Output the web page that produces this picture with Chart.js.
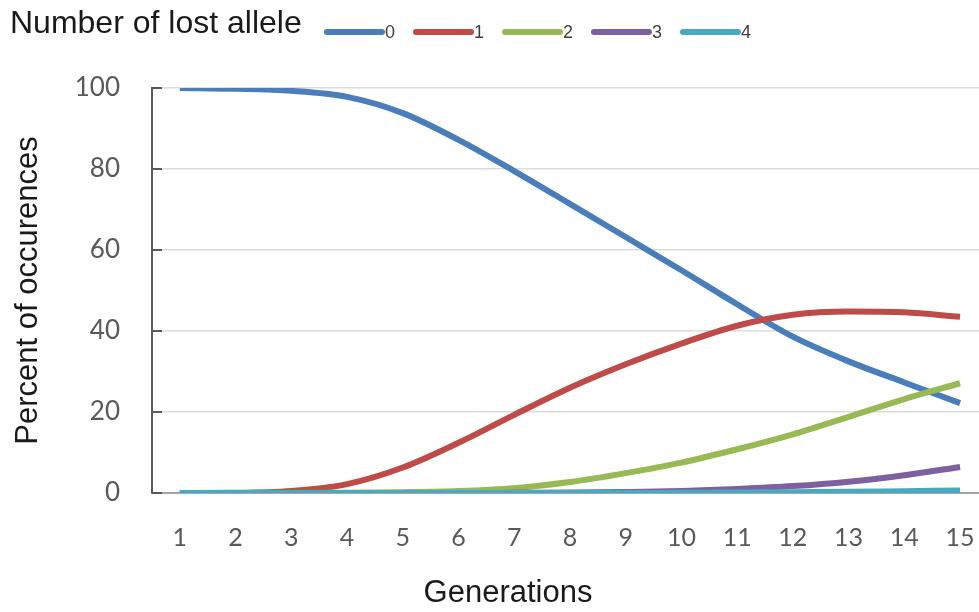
<!DOCTYPE html>
<html>
<head>
<meta charset="utf-8">
<script src="https://cdn.jsdelivr.net/npm/chart.js@4.4.1/dist/chart.umd.min.js"></script>
<style>
  body { margin: 0; background: #fff; }
  canvas { display: block; }
</style>
</head>
<body>
<canvas id="chart" width="979" height="612"></canvas>
<script>
// data
const generations = [1, 2, 3, 4, 5, 6, 7, 8, 9, 10, 11, 12, 13, 14, 15];
const lost0 = [100, 99.8, 99.3, 97.8, 93.8, 87.2, 79.5, 71.4, 63.2, 55.0, 46.6, 38.6, 32.5, 27.3, 22.2];
const lost1 = [0, 0.05, 0.5, 2.2, 6.3, 12.4, 19.3, 26.0, 31.8, 36.9, 41.3, 44.0, 44.8, 44.6, 43.5];
const lost2 = [0, 0, 0, 0.05, 0.2, 0.5, 1.2, 2.7, 4.9, 7.5, 10.8, 14.5, 18.8, 23.2, 27.1];
const lost3 = [0, 0, 0, 0, 0, 0, 0.05, 0.1, 0.25, 0.5, 1.0, 1.7, 2.8, 4.4, 6.4];
const lost4 = [0, 0, 0, 0, 0, 0, 0, 0, 0, 0.05, 0.1, 0.2, 0.3, 0.45, 0.6];
const seriesLabels = ['0', '1', '2', '3', '4'];
const seriesColors = ['#4a7ebb', '#be4b48', '#98b954', '#7d60a0', '#46aac5'];
const yTicks = [0, 20, 40, 60, 80, 100];

const seriesValues = [lost0, lost1, lost2, lost3, lost4];

// Legende, x-Titel und kleine Striche an der y-Achse
const decorPlugin = {
  id: 'decor',
  afterDraw(chart) {
    const ctx = chart.ctx;
    ctx.save();
    ctx.textBaseline = 'middle';
    ctx.fillStyle = '#1a1a1a';
    ctx.font = '32px "Liberation Sans", Arial, sans-serif';
    ctx.fillText('Number of lost allele', 10, 24);

    let x = 324;
    chart.data.datasets.forEach(ds => {
      ctx.strokeStyle = ds.borderColor;
      ctx.lineWidth = 6;
      ctx.lineCap = 'round';
      ctx.beginPath();
      ctx.moveTo(x + 3, 32);
      ctx.lineTo(x + 58, 32);
      ctx.stroke();
      ctx.fillStyle = '#404040';
      ctx.font = '18px "Liberation Sans Narrow", "Liberation Sans", sans-serif';
      ctx.textAlign = 'left';
      ctx.fillText(ds.label, x + 61, 33);
      x += 89;
    });

    ctx.fillStyle = '#1a1a1a';
    ctx.textAlign = 'center';
    ctx.font = '31px "Liberation Sans", Arial, sans-serif';
    ctx.fillText('Generations', 508, 593);

    const ys = chart.scales.y;
    ctx.strokeStyle = '#595959';
    ctx.lineWidth = 2;
    ctx.lineCap = 'butt';
    ys.ticks.forEach(t => {
      const py = Math.round(ys.getPixelForValue(t.value));
      ctx.beginPath();
      ctx.moveTo(ys.right, py);
      ctx.lineTo(ys.right + 10, py);
      ctx.stroke();
    });
    ctx.restore();
  }
};

const datasets = seriesValues.map((vals, i) => ({
  label: seriesLabels[i],
  data: vals.map((v, j) => ({ x: generations[j], y: v })),
  borderColor: seriesColors[i],
  backgroundColor: seriesColors[i],
  borderWidth: 6,
  pointRadius: 0,
  cubicInterpolationMode: 'monotone',
  order: seriesValues.length - i
}));

new Chart(document.getElementById('chart'), {
  type: 'line',
  data: { datasets: datasets },
  options: {
    responsive: false,
    animation: false,
    layout: { padding: { top: 88, left: 0, right: 0, bottom: 0 } },
    plugins: {
      legend: { display: false },
      tooltip: { enabled: false }
    },
    scales: {
      x: {
        type: 'linear',
        min: 0.5,
        max: 15.34,
        afterFit: s => { s.height = 119; s.paddingRight = 0; s.paddingLeft = 0; },
        afterBuildTicks: s => { s.ticks = generations.map(g => ({ value: g })); },
        grid: { display: false },
        border: { color: '#a6a6a6', width: 2 },
        ticks: {
          padding: 22,
          color: '#595959',
          font: { family: 'Lato, sans-serif', size: 25 },
          maxRotation: 0,
          autoSkip: false
        }
      },
      y: {
        min: 0,
        max: 100,
        afterFit: s => { s.width = 152; },
        afterBuildTicks: s => { s.ticks = yTicks.map(v => ({ value: v })); },
        grid: { color: '#dcdcdc', lineWidth: 1.5, drawTicks: false },
        border: { color: '#595959', width: 2 },
        ticks: {
          padding: 32,
          color: '#595959',
          font: { family: 'Lato, sans-serif', size: 26 }
        },
        title: {
          display: true,
          text: 'Percent of occurences',
          color: '#1a1a1a',
          font: { family: '"Liberation Sans", Arial, sans-serif', size: 31 },
          padding: { top: 10, bottom: 0 }
        }
      }
    }
  },
  plugins: [decorPlugin]
});
</script>
</body>
</html>
